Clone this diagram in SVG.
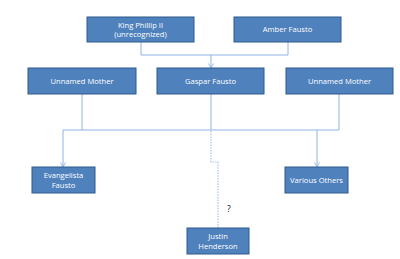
<svg xmlns="http://www.w3.org/2000/svg" width="400" height="259" viewBox="0 0 400 259">
<style>
.box{fill:#4F81BD;stroke:#2F5A8C;stroke-width:1}
.t{fill:#ffffff;font-family:"Open Sans","Liberation Sans",sans-serif;font-size:7.6px;text-anchor:middle}
.c{fill:none;stroke:#8EB4E3;stroke-width:1}
.d{fill:none;stroke:#A9C4E8;stroke-width:1.2;stroke-dasharray:1.5,1.2}
</style>
<defs>
<marker id="ar" markerWidth="6" markerHeight="6" refX="5" refY="3" orient="auto" markerUnits="userSpaceOnUse">
<path d="M0.5,0.5 L5,3 L0.5,5.5" fill="none" stroke="#8EB4E3" stroke-width="0.9"/>
</marker>
</defs>
<rect width="400" height="259" fill="#ffffff"/>
<g id="connectors">
<path class="c" d="M141,42 V55 H288 V42"/>
<path class="c" d="M211,55 V68" marker-end="url(#ar)"/>
<path class="c" d="M82,94 V130"/>
<path class="c" d="M339,94 V130"/>
<path class="c" d="M211,94 V130"/>
<path class="c" d="M63,130 H339"/>
<path class="c" d="M63,130 V167" marker-end="url(#ar)"/>
<path class="c" d="M317,130 V167" marker-end="url(#ar)"/>
<path class="d" d="M211,131 V162 H218 V228"/>
<text x="227" y="212" font-family="'Open Sans','Liberation Sans',sans-serif" font-size="8.5" fill="#000">?</text>
</g>
<g id="king"><rect class="box" x="87" y="17" width="107" height="25"/><text class="t" x="140.5" y="27.5">King Phillip II</text><text class="t" x="140.5" y="37">(unrecognized)</text></g>
<g id="amber"><rect class="box" x="234" y="17" width="107" height="25"/><text class="t" x="287.5" y="32">Amber Fausto</text></g>
<g id="mother1"><rect class="box" x="28" y="68" width="108" height="26"/><text class="t" x="82" y="83.5">Unnamed Mother</text></g>
<g id="gaspar"><rect class="box" x="157" y="68" width="107" height="26"/><text class="t" x="210.5" y="83.5">Gaspar Fausto</text></g>
<g id="mother2"><rect class="box" x="286" y="68" width="107" height="26"/><text class="t" x="339.5" y="83.5">Unnamed Mother</text></g>
<g id="evangelista"><rect class="box" x="32" y="167" width="63" height="26"/><text class="t" x="63.5" y="177.5">Evangelista</text><text class="t" x="63.5" y="187.5">Fausto</text></g>
<g id="various"><rect class="box" x="285" y="167" width="63" height="26"/><text class="t" x="316.5" y="182.5">Various Others</text></g>
<g id="justin"><rect class="box" x="187" y="228" width="62" height="26"/><text class="t" x="218" y="238.5">Justin</text><text class="t" x="218" y="248.5">Henderson</text></g>
</svg>
